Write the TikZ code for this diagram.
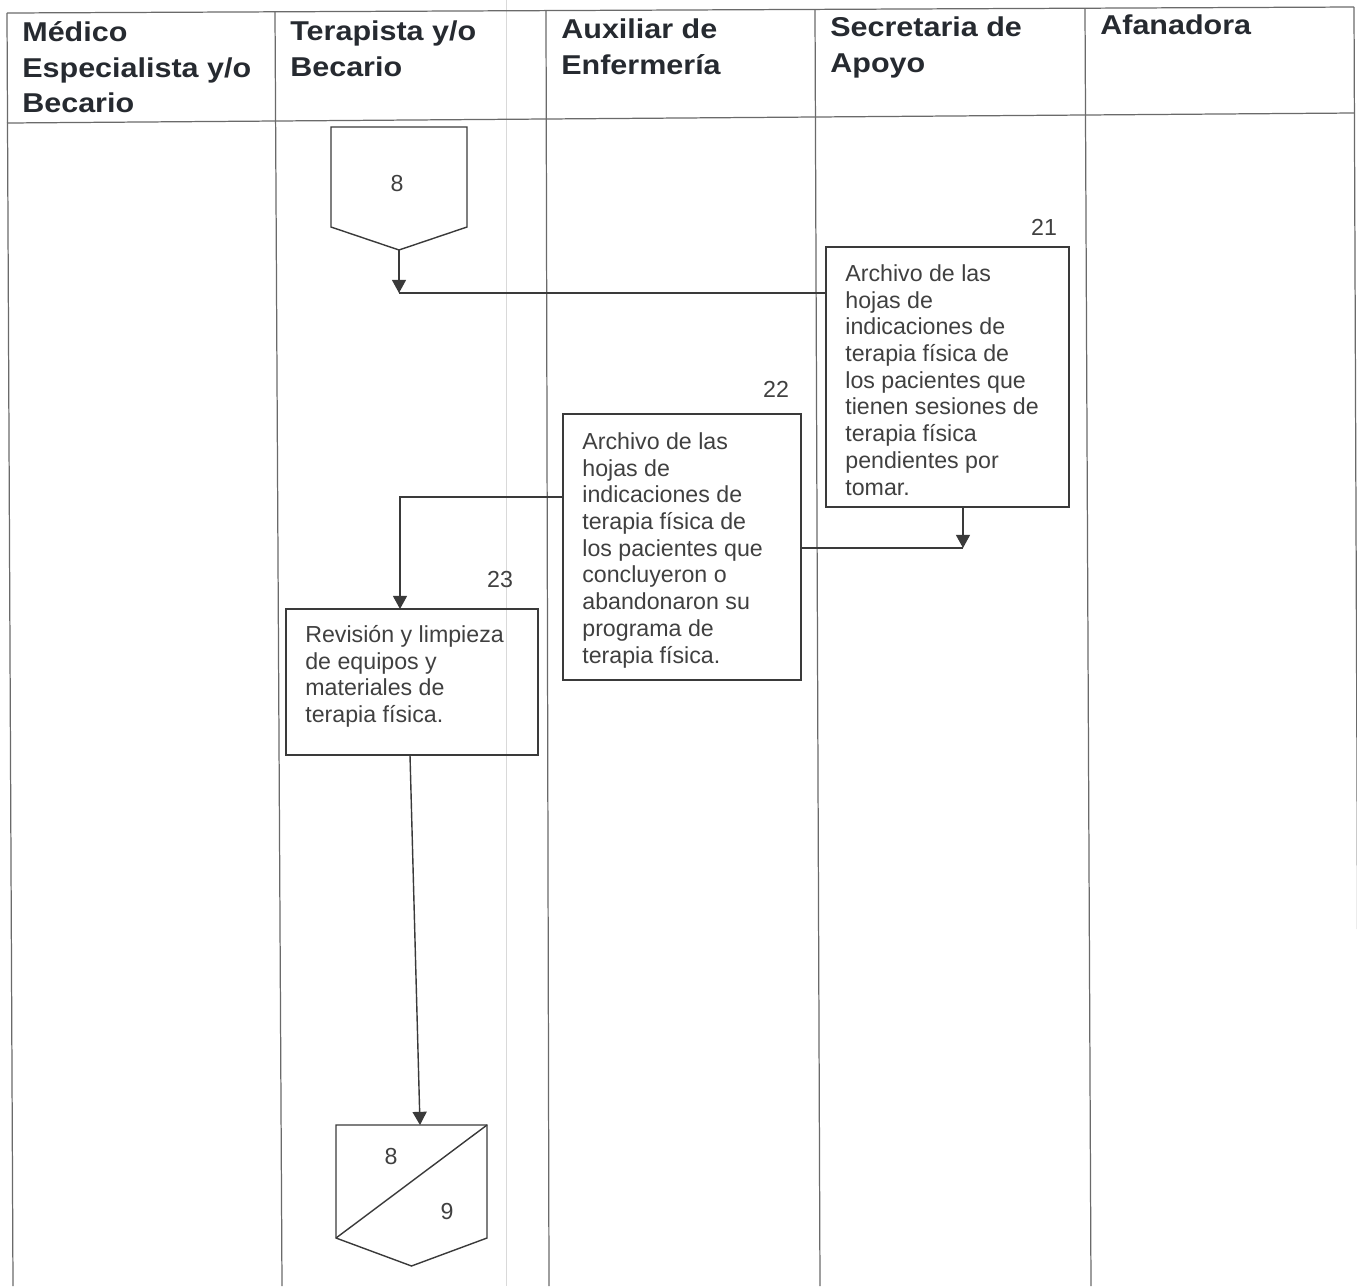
\documentclass[tikz,border=0pt]{standalone}
\usepackage{fontspec}
\setmainfont{Liberation Sans}
\newfontfamily\hdfont[FakeStretch=1.12]{Liberation Sans Bold}
\usetikzlibrary{arrows.meta,calc}
\definecolor{tblc}{HTML}{6A6A6A}
\definecolor{inkc}{HTML}{3A3A3A}
\definecolor{txtc}{HTML}{404040}
\definecolor{hdc}{HTML}{262A30}
\tikzset{
  tbl/.style={draw=tblc, line width=0.7pt},
  shp/.style={draw=inkc, line width=0.8pt},
  holder/.style={draw=none, inner sep=0pt, outer sep=0pt},
  procbox/.style={draw=inkc, line width=0.8pt, inner sep=0pt, outer sep=0pt},
  arr/.style={draw=inkc, line width=0.8pt, -{Triangle[length=7.5pt,width=8pt]}},
  lnk/.style={draw=inkc, line width=0.8pt},
  hdtext/.style={anchor=north west, inner sep=0pt, align=left, text=hdc,
    font=\hdfont\fontsize{15.5}{20.1}\selectfont},
  bodytext/.style={anchor=north west, inner sep=0pt, align=left, text=txtc,
    font=\fontsize{13.2}{15.2}\selectfont},
  numtext/.style={inner sep=0pt, text=txtc, font=\fontsize{13.2}{15.2}\selectfont}
}
\newcommand\hstr{\rule{0pt}{15pt}}
\newcommand\bstr{\rule{0pt}{12pt}}
\begin{document}
\begin{tikzpicture}[x=0.02cm, y=-0.02cm]
\useasboundingbox (0,0) rectangle (1357,1286);
% faint scan line
\draw[gray!30, line width=0.5pt] (506,0) -- (506,1286);
% table grid
\draw[tbl] (7,13) -- (1354,7);
\draw[tbl] (7,123) -- (1354,113);
\draw[tbl] (7,13) -- (13,1286);
\draw[tbl] (275,12) -- (282,1286);
\draw[tbl] (546,11) -- (549,1286);
\draw[tbl] (815,9) -- (820,1286);
\draw[tbl] (1085,8) -- (1091,1286);
\draw[tbl] (1354,7) -- (1359,1286);
% headers
\node[hdtext] (h1) at (22,15) {\hstr M\'edico\\Especialista y/o\\Becario};
\node[hdtext] (h2) at (290,14) {\hstr Terapista y/o\\Becario};
\node[hdtext] (h3) at (561,12) {\hstr Auxiliar de\\Enfermer\'ia};
\node[hdtext] (h4) at (830,10) {\hstr Secretaria de\\Apoyo};
\node[hdtext] (h5) at (1100,8) {\hstr Afanadora};
% off-page connector top (8)
\node[holder, minimum width=2.72cm, minimum height=2.46cm] (c8) at (399,188.5) {};
\draw[shp] (c8.north west) -- (c8.north east) -- ($(c8.north east)+(0,100)$)
  -- (c8.south) -- ($(c8.north west)+(0,100)$) -- cycle;
\node[numtext] (n8a) at (397,184) {8};
% box 21
\node[procbox, minimum width=4.86cm, minimum height=5.2cm] (b21) at (947.5,377) {};
\node[bodytext] (t21) at (845,260) {\bstr Archivo de las\\hojas de\\indicaciones de\\terapia f\'isica de\\los pacientes que\\tienen sesiones de\\terapia f\'isica\\pendientes por\\tomar.};
\node[numtext] (n21) at (1044,227) {21};
% box 22
\node[procbox, minimum width=4.76cm, minimum height=5.32cm] (b22) at (682,547) {};
\node[bodytext] (t22) at (582,428) {\bstr Archivo de las\\hojas de\\indicaciones de\\terapia f\'isica de\\los pacientes que\\concluyeron o\\abandonaron su\\programa de\\terapia f\'isica.};
\node[numtext] (n22) at (776,389) {22};
% box 23
\node[procbox, minimum width=5.04cm, minimum height=2.92cm] (b23) at (412,682) {};
\node[bodytext] (t23) at (305,621) {\bstr Revisi\'on y limpieza\\de equipos y\\materiales de\\terapia f\'isica.};
\node[numtext] (n23) at (500,580) {23};
% off-page connector bottom (8/9)
\node[holder, minimum width=3.02cm, minimum height=2.82cm] (c89) at (411.5,1195.5) {};
\draw[shp] (c89.north west) -- (c89.north east) -- ($(c89.north east)+(0,113)$)
  -- (c89.south) -- ($(c89.north west)+(0,113)$) -- cycle;
\draw[shp] ($(c89.north west)+(0,113)$) -- (c89.north east);
\node[numtext] (n8b) at (391,1157) {8};
\node[numtext] (n9) at (447,1212) {9};
% connectors
\coordinate (j1) at (399,293);
\draw[arr] (c8.south) -- (j1);
\draw[lnk] (j1) -- (j1 -| b21.west);
\coordinate (j2) at (963,548);
\draw[arr] (b21.south -| j2) -- (j2);
\draw[lnk] (b22.east |- j2) -- (j2);
\coordinate (k1) at (400,497);
\draw[arr] (b22.west |- k1) -- (k1) -- (k1 |- b23.north);
\draw[arr] ([xshift=-0.04cm]b23.south) -- ([xshift=0.17cm]c89.north);
\end{tikzpicture}
\end{document}
